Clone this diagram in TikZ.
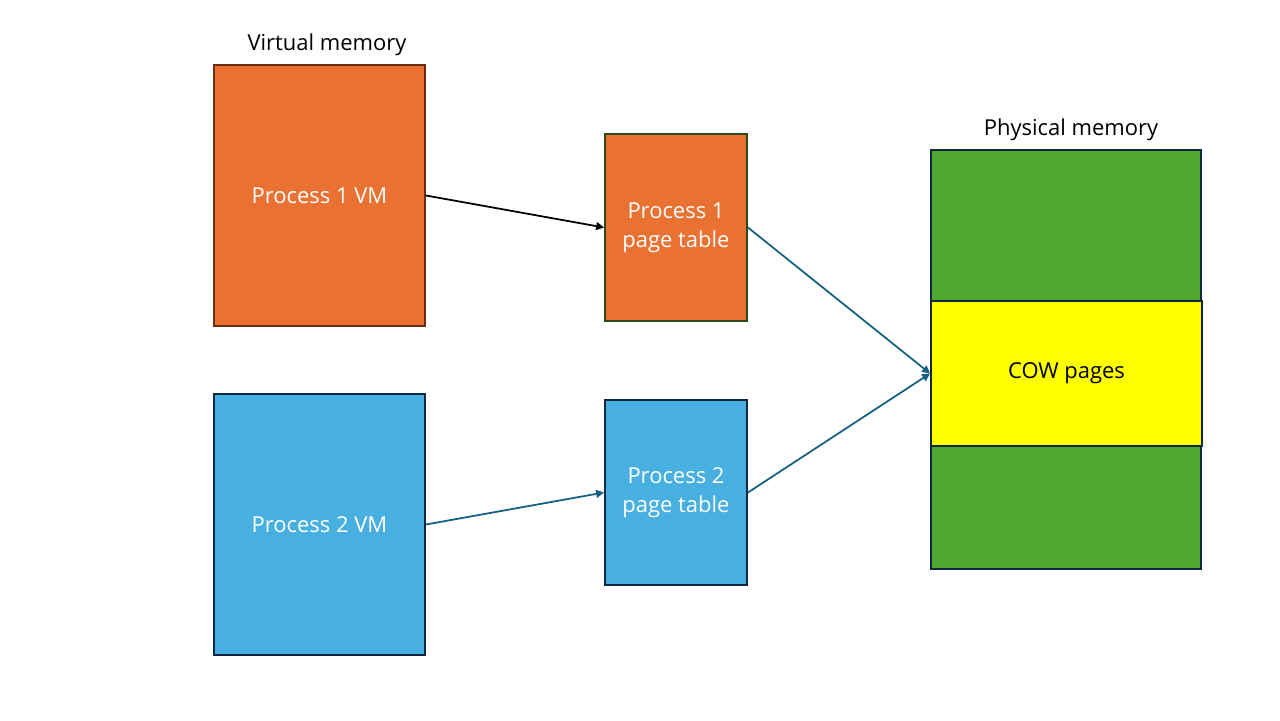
\documentclass[tikz,border=0pt]{standalone}
\usepackage{fontspec}
\setmainfont{Open Sans}
\usetikzlibrary{positioning,arrows.meta}
\definecolor{vmorange}{HTML}{E97132}
\definecolor{vmblue}{HTML}{47B0E0}
\definecolor{physgreen}{HTML}{4EA72E}
\definecolor{cowyellow}{HTML}{FFFF00}
\definecolor{navyedge}{HTML}{0E2841}
\definecolor{brownedge}{HTML}{6B2E12}
\definecolor{greenedge}{HTML}{2B4A1B}
\definecolor{linkblue}{HTML}{156082}
\tikzset{membox/.style={rectangle, draw=navyedge, line width=1.1pt, inner sep=0pt, text=white, align=center, font=\fontsize{12.5}{16.5}\selectfont},
  headnode/.style={font=\fontsize{12.5}{15}\selectfont, inner sep=1pt},
  link/.style={line width=1pt, draw=linkblue, -{Triangle[length=4.5pt,width=4.5pt]}},}

\begin{document}
\begin{tikzpicture}[x=0.02cm, y=-0.02cm]
\useasboundingbox (0,0) rectangle (1280,720);
\node [membox, fill=vmorange, draw=brownedge, minimum width=4.22cm, minimum height=5.22cm] (p1vm) at (319.5,195.5) {Process 1 VM};
\node [membox, fill=vmblue, minimum width=4.22cm, minimum height=5.22cm] (p2vm) at (319.5,524.5) {Process 2 VM};
\node [membox, fill=vmorange, draw=greenedge, minimum width=2.84cm, minimum height=3.74cm] (pt1) at (676,227.5) {Process 1\\page table};
\node [membox, fill=vmblue, minimum width=2.84cm, minimum height=3.70cm] (pt2) at (676,492.5) {Process 2\\page table};
\node [membox, fill=physgreen, minimum width=5.40cm, minimum height=8.38cm] (phys) at (1066,359.5) {};
\node [membox, fill=cowyellow, text=black, minimum width=5.42cm, minimum height=2.90cm] (cow) at (1066.5,373.5) {COW pages};
\node [headnode] (vmhead) [above=0.12cm of p1vm, xshift=0.15cm] {Virtual memory};
\node [headnode] (physhead) [above=0.12cm of phys, xshift=0.1cm] {Physical memory};
\draw [link, draw=black] (p1vm.east) -- (pt1.west);
\draw [link] (p2vm.east) -- (pt2.west);
\draw [link] (pt1.east) -- (cow.west);
\draw [link] (pt2.east) -- (cow.west);
\end{tikzpicture}
\end{document}
